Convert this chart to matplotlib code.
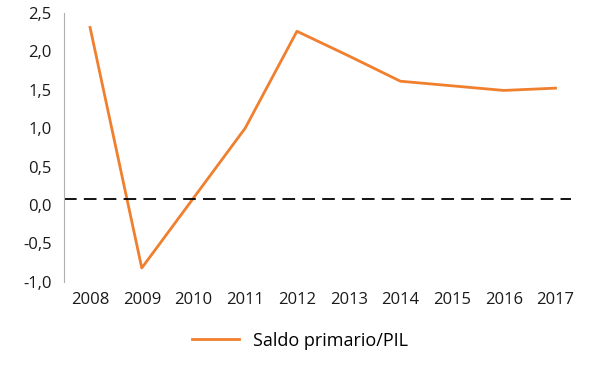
import matplotlib
matplotlib.use("Agg")
import matplotlib.pyplot as plt
from matplotlib.ticker import FuncFormatter

plt.rcParams.update({"font.family": ["Open Sans", "DejaVu Sans"], "font.size": 12})

years = [2008, 2009, 2010, 2011, 2012, 2013, 2014, 2015, 2016, 2017]
saldo = [2.31, -0.82, 0.09, 1.0, 2.26, 1.94, 1.61, 1.55, 1.49, 1.52]
ref_level = 0.08
label = "Saldo primario/PIL"

fig = plt.figure(figsize=(6.0, 3.66), dpi=100)
ax = fig.add_axes([0.107, 0.23, 0.862, 0.735])

x = list(range(len(years)))
ax.plot(x, saldo, color="#F07F2E", lw=2, label=label)
ax.axhline(ref_level, color="black", lw=1.3, ls=(0, (7, 4)), xmin=0, xmax=0.98)

ax.set_xlim(-0.5, len(years) - 0.5)
ax.set_ylim(-1.0, 2.5)
ax.set_yticks([-1.0, -0.5, 0.0, 0.5, 1.0, 1.5, 2.0, 2.5])
ax.yaxis.set_major_formatter(FuncFormatter(lambda v, p: f"{v:.1f}".replace(".", ",")))
ax.set_xticks(x)
ax.set_xticklabels([str(y) for y in years])
ax.tick_params(length=0, pad=7, colors="#1a1a1a")
ax.tick_params(axis="y", pad=9)

for s in ["top", "right", "bottom"]:
    ax.spines[s].set_visible(False)
ax.spines["left"].set_color("#B0B0B0")

fig.legend(loc="lower center", bbox_to_anchor=(0.5, 0.0), frameon=False,
           handlelength=2.6, fontsize=13)

fig.savefig("out.png", dpi=100)
